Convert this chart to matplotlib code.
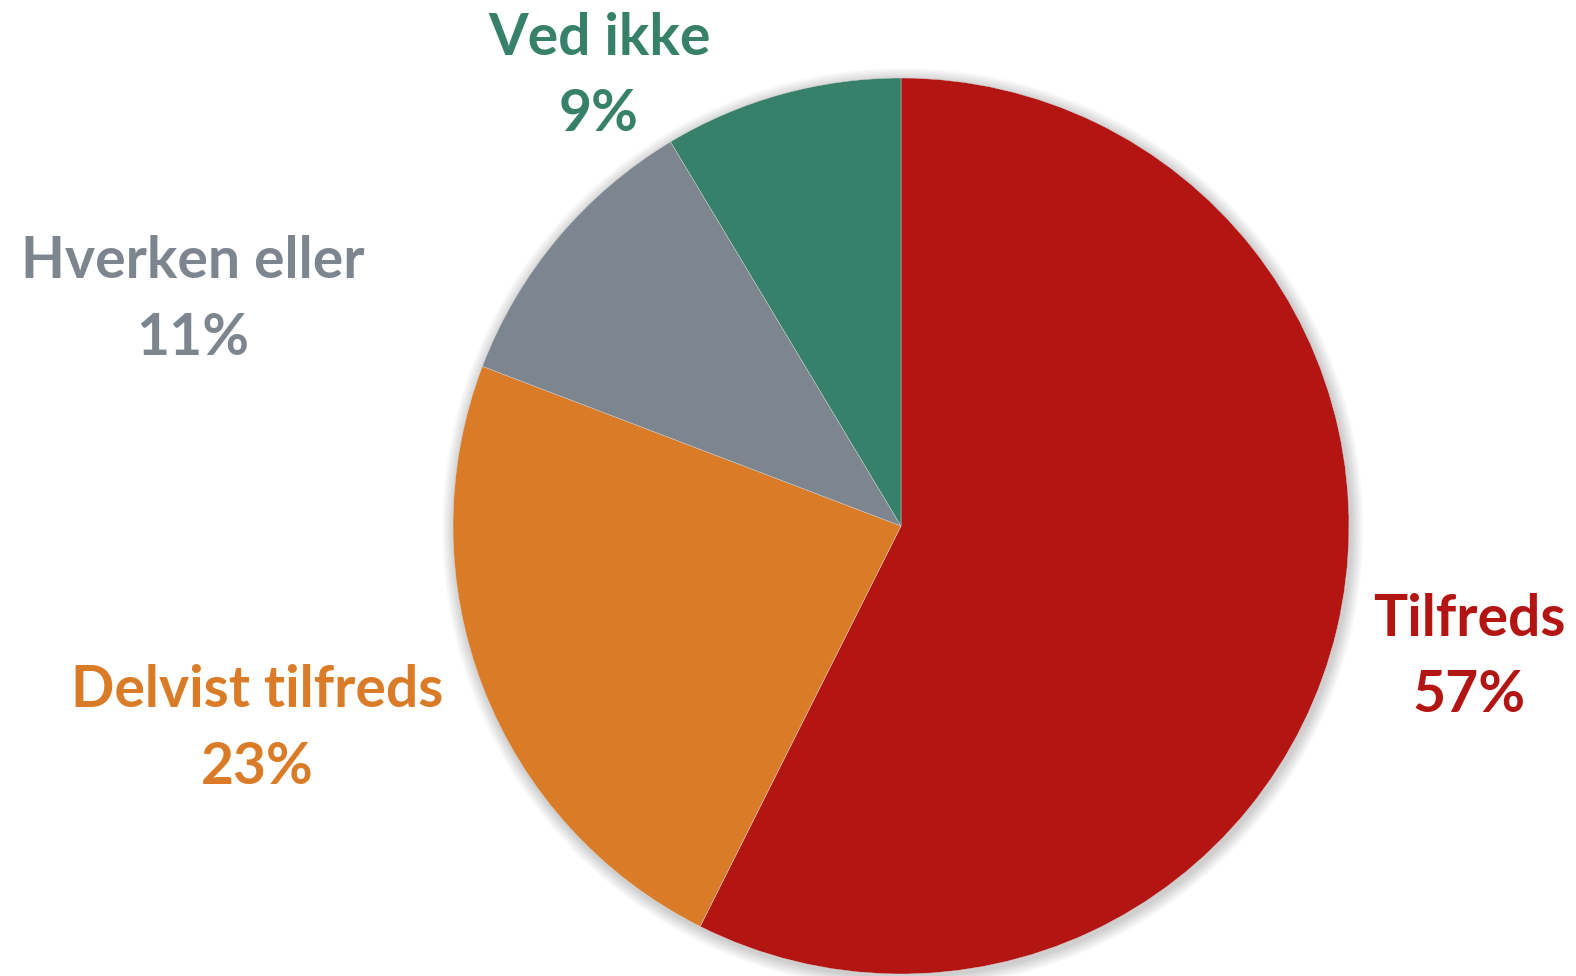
import matplotlib
matplotlib.use("Agg")
import matplotlib.pyplot as plt
from matplotlib.patches import Circle

categories = ["Tilfreds", "Delvist tilfreds", "Hverken eller", "Ved ikke"]
values = [57.4, 23.4, 10.6, 8.6]
pct_labels = ["57%", "23%", "11%", "9%"]
colors = ["#B31513", "#D97B27", "#7D868F", "#37806A"]

# label placement (pixel centres / baselines in figure px, top-left origin)
label_pos = {
    "Tilfreds": (1469, 636, 712),
    "Delvist tilfreds": (257, 707, 784),
    "Hverken eller": (193, 278, 355),
    "Ved ikke": (599, 55, 131),
}

W, H = 1576, 976
CX, CY, R = 901, 526, 448

fig = plt.figure(figsize=(W / 100, H / 100), dpi=100)
ax = fig.add_axes([0, 0, 1, 1])

# soft shadow
for i in range(8):
    ax.add_patch(Circle((0.004, -0.006), 1.0 + 0.0035 * (i + 1), color="black",
                        alpha=0.025, lw=0, zorder=0))

ax.pie(values, colors=colors, startangle=90, counterclock=False, radius=1.0,
       center=(0, 0), wedgeprops=dict(linewidth=0.3, edgecolor="#d8d8d8"), frame=True)
ax.set_xlim(-CX / R, (W - CX) / R)
ax.set_ylim(-(H - CY) / R, CY / R)
ax.set_aspect("equal")
ax.axis("off")

font = dict(family=["Lato", "DejaVu Sans"], fontweight="bold", fontsize=41)
for cat, lab, col in zip(categories, pct_labels, colors):
    x, y1, y2 = label_pos[cat]
    ax.text((x - CX) / R, (CY - y1) / R, cat, color=col, ha="center", va="baseline", **font)
    ax.text((x - CX) / R, (CY - y2) / R, lab, color=col, ha="center", va="baseline", **font)

fig.savefig("out.png", dpi=100)
